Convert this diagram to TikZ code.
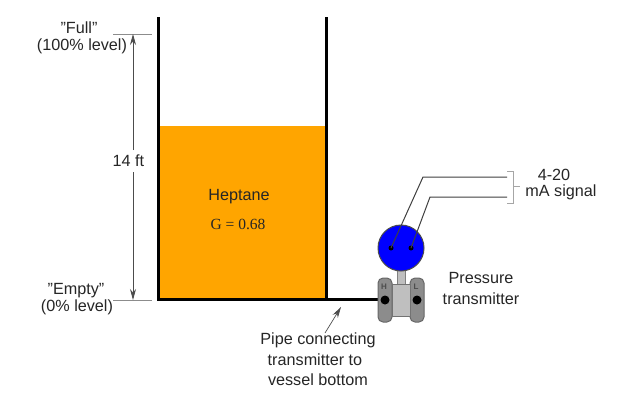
\documentclass[tikz,border=0pt]{standalone}
\usepackage{fontspec}
\setmainfont{Liberation Sans}
\newfontfamily\serifface{Liberation Serif}
\usetikzlibrary{arrows.meta}
\definecolor{liquid}{RGB}{255,165,0}
\definecolor{headblue}{RGB}{0,0,255}
\tikzset{
  lbl/.style={inner sep=0pt,align=center,font=\fontsize{16.2}{20}\selectfont,text=black!85},
  wall/.style={draw=black,line width=3pt},
  dimline/.style={draw=black!45,line width=1pt},
  dimarrow/.style={draw=black!70,line width=0.8pt,-{Stealth[length=11pt,width=6pt]}},
  wire/.style={draw=black!75,line width=1pt},
  capsule/.style={draw=black!60,fill=black!45,line width=1pt,rounded corners=5pt},
  portlabel/.style={inner sep=0pt,font=\bfseries\fontsize{8}{9}\selectfont,text=black!70},
}
\begin{document}
\begin{tikzpicture}[x=1pt,y=-1pt]
\useasboundingbox[fill=white] (0,0) rectangle (626,400);
% liquid
\fill[liquid] (158,126) rectangle (326,299);
% vessel
\draw[wall,line join=miter] (158,17) -- (158,299) -- (326,299) -- (326,17);
% pipe
\coordinate (pipeA) at (326,299);
\coordinate (pipeB) at (385,299);
\draw[wall] (pipeA) -- (pipeB);
% level marks
\coordinate (fullL) at (113,34);
\coordinate (fullR) at (152,34);
\coordinate (emptyL) at (113,300);
\coordinate (emptyR) at (152,300);
\coordinate (fullM) at (133,34);
\coordinate (emptyM) at (133,300);
\draw[dimline] (fullL) -- (fullR);
\draw[dimline] (emptyL) -- (emptyR);
\node[lbl] (span) at (128.5,161) {14 ft};
\draw[dimarrow] (133,150) -- (fullM);
\draw[dimarrow] (133,172) -- (emptyM);
\node[lbl] (full) at (79,28) {\char34 Full\char34};
\node[lbl] (fullb) at (82,46) {(100\% level)};
\node[lbl] (empty) at (76,291) {\char34 Empty\char34};
\node[lbl] (emptyb) at (77,307.5) {(0\% level)};
% liquid text
\node[lbl] (hep) at (239,197) {Heptane};
\node[lbl,font=\serifface\fontsize{15.5}{18}\selectfont] (grav) at (238,224) {G = 0.68};
% transmitter
\fill[black!25,draw=black!50,line width=0.8pt] (397,270) rectangle (405,285);
\path[capsule] (378,278) rectangle (392,322);
\path[capsule] (410,278) rectangle (424,322);
\fill[black!25,draw=black!55,line width=0.8pt] (392,284) rectangle (410.5,316);
\node[circle,draw=black!70,fill=headblue,line width=1pt,minimum size=46pt,inner sep=0pt] (head) at (401,248) {};
\node[circle,fill=black,minimum size=9pt,inner sep=0pt] (hport) at (385,300) {};
\node[circle,fill=black,minimum size=9pt,inner sep=0pt] (lport) at (417,300) {};
\node[portlabel] (hlab) at (384,287) {H};
\node[portlabel] (llab) at (416,287) {L};
% wires
\node[circle,fill=black,minimum size=5pt,inner sep=0pt] (t1) at (391,248) {};
\node[circle,fill=black,minimum size=5pt,inner sep=0pt] (t2) at (411,248) {};
\coordinate (w1a) at (423,177);
\coordinate (w1b) at (507,177);
\coordinate (w2a) at (430,197);
\coordinate (w2b) at (507,197);
\draw[wire] (t1.center) -- (w1a) -- (w1b);
\draw[wire] (t2.center) -- (w2a) -- (w2b);
% bracket
\draw[black!35,line width=0.8pt] (507,171) -- (513,171) -- (513,203) -- (507,203);
\draw[black!35,line width=0.8pt] (513,186) -- (520,186);
\node[lbl] (sig1) at (554,175) {4-20};
\node[lbl] (sig2) at (561,192) {mA signal};
\node[lbl] (pt1) at (481,278) {Pressure};
\node[lbl] (pt2) at (481,299) {transmitter};
% pipe label
\node[lbl] (pl1) at (318,340) {Pipe connecting};
\node[lbl] (pl2) at (315,360) {transmitter to};
\node[lbl] (pl3) at (318,380) {vessel bottom};
\coordinate (ptip) at (341,307);
\draw[draw=black!70,line width=0.7pt,-{Stealth[length=11pt,width=6pt]}] (325,333) -- (ptip);
\end{tikzpicture}
\end{document}
